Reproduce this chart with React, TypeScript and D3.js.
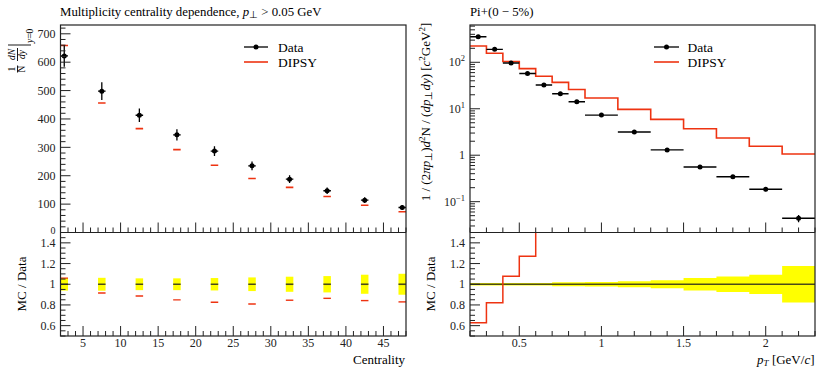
import React from 'react';
import * as d3 from 'd3';

// ---------- data: centrality dependence ----------
const centrality = [2.5, 7.5, 12.5, 17.5, 22.5, 27.5, 32.5, 37.5, 42.5, 47.5];
const centralityHalfWidth = [0.5, 0.5, 0.5, 0.5, 0.5, 0.5, 0.5, 0.5, 0.5, 0.5];
const multData = [622, 498, 413, 344, 287, 235, 188, 147, 114, 88];
const multErr = [38, 31, 23.5, 19.6, 17.2, 15.5, 13.7, 11.6, 10.5, 8.9];
const multMC = [659, 456, 366, 292, 237, 190, 159, 127, 96, 73];

// ---------- data: Pi+ (0-5%) spectrum ----------
const ptLow = [0.2, 0.3, 0.4, 0.5, 0.6, 0.7, 0.8, 0.9, 1.1, 1.3, 1.5, 1.7, 1.9, 2.1];
const ptHigh = [0.3, 0.4, 0.5, 0.6, 0.7, 0.8, 0.9, 1.1, 1.3, 1.5, 1.7, 1.9, 2.1, 2.3];
const piData = [356, 190, 96.5, 57.5, 32.5, 21, 14.2, 7.3, 3.16, 1.3, 0.558, 0.345, 0.185, 0.044];
const piRelErr = [0.012, 0.012, 0.012, 0.012, 0.012, 0.019, 0.02, 0.022, 0.028, 0.038, 0.06, 0.076, 0.093, 0.177];
const piMC = [224, 156, 104, 73, 50, 37, 26, 17, 9.7, 5.9, 3.7, 2.35, 1.56, 1.06];

// ---------- tick labels ----------
const leftYTicks = [0, 100, 200, 300, 400, 500, 600, 700];
const leftXTicks = [5, 10, 15, 20, 25, 30, 35, 40, 45];
const ratioTicks = [0.6, 0.8, 1, 1.2, 1.4];
const ratioTickLabels = ['0.6', '0.8', '1', '1.2', '1.4'];
const rightXTicks = [0.5, 1, 1.5, 2];
const rightXTickLabels = ['0.5', '1', '1.5', '2'];
const logTicks = [0.1, 1, 10, 100];

const FONT = "'Liberation Serif', 'Times New Roman', serif";
const RED = '#ee3311';
const YEL = '#ffff00';
const LINE1 = '#4a4a18';
const FRAME = '#222';

const L = { x0: 60.5, x1: 406, top: 25, mid: 232.5, bot: 336 };
const R = { x0: 470, x1: 815, top: 25, mid: 232.5, bot: 336 };

const range = (a: number, b: number, s: number) => {
  const out: number[] = [];
  for (let v = a; v <= b + 1e-9; v += s) out.push(Math.round(v * 1000) / 1000);
  return out;
};

function LeftPanel() {
  const x = d3.scaleLinear().domain([2, 48]).range([L.x0, L.x1]);
  const y = d3.scaleLinear().domain([0, 731]).range([L.mid, L.top]);
  const yr = d3.scaleLinear().domain([0.5, 1.5]).range([L.bot, L.mid]);
  const xMinor = range(2, 48, 1).filter((v) => v % 5 !== 0);
  const yMinor = range(0, 720, 20).filter((v) => v % 100 !== 0);
  const rMinor = range(0.5, 1.5, 0.05).filter((v) => !ratioTicks.some((t) => Math.abs(t - v) < 1e-6));
  return (
    <g>
      <defs>
        <clipPath id="clipLT"><rect x={L.x0} y={L.top} width={L.x1 - L.x0} height={L.mid - L.top} /></clipPath>
        <clipPath id="clipLB"><rect x={L.x0} y={L.mid} width={L.x1 - L.x0} height={L.bot - L.mid} /></clipPath>
      </defs>
      {/* title */}
      <text x={60} y={16} fontSize={12.8} fontFamily={FONT}>
        Multiplicity centrality dependence, <tspan fontStyle="italic">p</tspan><tspan fontSize={9.5} dy={2}>⊥</tspan><tspan dy={-2}> &gt; 0.05 GeV</tspan>
      </text>
      {/* main */}
      <g clipPath="url(#clipLT)">
        {centrality.map((c, i) => (
          <line key={'mc' + i} x1={x(c - centralityHalfWidth[i])} x2={x(c + centralityHalfWidth[i])} y1={y(multMC[i])} y2={y(multMC[i])} stroke={RED} strokeWidth={1.6} />
        ))}
        {centrality.map((c, i) => (
          <g key={'d' + i}>
            <line x1={x(c)} x2={x(c)} y1={y(multData[i] - multErr[i])} y2={y(multData[i] + multErr[i])} stroke="#000" strokeWidth={1.3} />
            <line x1={x(c - centralityHalfWidth[i])} x2={x(c + centralityHalfWidth[i])} y1={y(multData[i])} y2={y(multData[i])} stroke="#000" strokeWidth={1.3} />
            <circle cx={x(c)} cy={y(multData[i])} r={2.5} fill="#000" />
          </g>
        ))}
      </g>
      {/* ratio */}
      <g clipPath="url(#clipLB)">
        {centrality.map((c, i) => {
          const e = multErr[i] / multData[i];
          return (
            <g key={'r' + i}>
              <rect x={x(c - centralityHalfWidth[i])} width={x(c + centralityHalfWidth[i]) - x(c - centralityHalfWidth[i])} y={yr(1 + e)} height={yr(1 - e) - yr(1 + e)} fill={YEL} />
              <line x1={x(c - centralityHalfWidth[i])} x2={x(c + centralityHalfWidth[i])} y1={yr(1)} y2={yr(1)} stroke={LINE1} strokeWidth={1.6} />
              <line x1={x(c - centralityHalfWidth[i])} x2={x(c + centralityHalfWidth[i])} y1={yr(multMC[i] / multData[i])} y2={yr(multMC[i] / multData[i])} stroke={RED} strokeWidth={1.4} />
            </g>
          );
        })}
      </g>
      {/* ticks */}
      <g stroke={FRAME} strokeWidth={1}>
        {leftYTicks.map((t) => <line key={'ly' + t} x1={L.x0} x2={L.x0 + 10} y1={y(t)} y2={y(t)} />)}
        {yMinor.map((t) => <line key={'lym' + t} x1={L.x0} x2={L.x0 + 5} y1={y(t)} y2={y(t)} />)}
        {ratioTicks.map((t) => <line key={'lr' + t} x1={L.x0} x2={L.x0 + 10} y1={yr(t)} y2={yr(t)} />)}
        {rMinor.map((t) => <line key={'lrm' + t} x1={L.x0} x2={L.x0 + 5} y1={yr(t)} y2={yr(t)} />)}
        {[L.mid, L.bot].map((yb) => (
          <g key={'xb' + yb}>
            {leftXTicks.map((t) => <line key={t} x1={x(t)} x2={x(t)} y1={yb} y2={yb - 10} />)}
            {xMinor.map((t) => <line key={'m' + t} x1={x(t)} x2={x(t)} y1={yb} y2={yb - 5} />)}
          </g>
        ))}
      </g>
      <rect x={L.x0} y={L.top} width={L.x1 - L.x0} height={L.bot - L.top} fill="none" stroke={FRAME} strokeWidth={1.2} />
      <line x1={L.x0} x2={L.x1} y1={L.mid} y2={L.mid} stroke={FRAME} strokeWidth={1.2} />
      {/* tick labels */}
      <g fontFamily={FONT} fontSize={12} fill="#222">
        {leftYTicks.map((t) => (
          <text key={'lyl' + t} x={L.x0 - 5} y={t === 0 ? y(t) - 2 : y(t)} dy="0.35em" textAnchor="end" fontSize={t === 0 ? 10 : 12}>{t}</text>
        ))}
        {ratioTicks.map((t, i) => <text key={'lrl' + t} x={L.x0 - 5} y={yr(t)} dy="0.35em" textAnchor="end">{ratioTickLabels[i]}</text>)}
        {leftXTicks.map((t) => <text key={'lxl' + t} x={x(t)} y={347} textAnchor="middle">{t}</text>)}
      </g>
      <text x={405} y={363.5} textAnchor="end" fontFamily={FONT} fontSize={13}>Centrality</text>
      <text transform="translate(25.5,284) rotate(-90)" textAnchor="middle" fontFamily={FONT} fontSize={13}>MC / Data</text>
      {/* y label: 1/N dN/dy |_{y=0} */}
      <g transform="rotate(-90)" fontFamily={FONT} fill="#000">
        <text x={-69} y={15} fontSize={9.5} textAnchor="middle">1</text>
        <line x1={-72.5} x2={-65.5} y1={17.5} y2={17.5} stroke="#000" strokeWidth={0.9} />
        <text x={-69} y={25} fontSize={9.5} textAnchor="middle">N</text>
        <text x={-54.5} y={15} fontSize={9.5} textAnchor="middle" fontStyle="italic">dN</text>
        <line x1={-61} x2={-48} y1={17.5} y2={17.5} stroke="#000" strokeWidth={0.9} />
        <text x={-54.5} y={25} fontSize={9.5} textAnchor="middle" fontStyle="italic">dy</text>
        <line x1={-45} x2={-45} y1={8} y2={31} stroke="#000" strokeWidth={0.9} />
        <text x={-43} y={33} fontSize={9.5}><tspan fontStyle="italic">y</tspan>=0</text>
      </g>
      {/* legend */}
      <line x1={244} x2={268} y1={47} y2={47} stroke="#000" strokeWidth={1.3} />
      <circle cx={256} cy={47} r={2.5} fill="#000" />
      <text x={278} y={51.5} fontFamily={FONT} fontSize={13.5}>Data</text>
      <line x1={244} x2={268} y1={62} y2={62} stroke={RED} strokeWidth={1.6} />
      <text x={278} y={66.5} fontFamily={FONT} fontSize={13.5}>DIPSY</text>
    </g>
  );
}

function RightPanel() {
  const x = d3.scaleLinear().domain([0.2, 2.3]).range([R.x0, R.x1]);
  const y = d3.scaleLog().domain([0.0217, 635]).range([R.mid, R.top]);
  const yr = d3.scaleLinear().domain([0.5, 1.5]).range([R.bot, R.mid]);
  const xMinor = range(0.2, 2.3, 0.1).filter((v) => !rightXTicks.some((t) => Math.abs(t - v) < 1e-6));
  const rMinor = range(0.5, 1.5, 0.05).filter((v) => !ratioTicks.some((t) => Math.abs(t - v) < 1e-6));
  const [ylo, yhi] = y.domain();
  const logMinor: number[] = [];
  for (let e = -2; e <= 2; e++) for (let m = 2; m <= 9; m++) {
    const v = m * Math.pow(10, e);
    if (v >= ylo && v <= yhi) logMinor.push(v);
  }
  const stepPts = (vals: number[]) => ptLow.flatMap((lo, i) => [[lo, vals[i]], [ptHigh[i], vals[i]]] as [number, number][]);
  const mcLine = d3.line<[number, number]>().x((d) => x(d[0])).y((d) => y(d[1]))(stepPts(piMC)) || '';
  const ratioVals = piMC.map((m, i) => m / piData[i]);
  const ratioLine = d3.line<[number, number]>().x((d) => x(d[0])).y((d) => yr(Math.min(d[1], 3)))(stepPts(ratioVals)) || '';
  const band = d3.area<[number, number]>().x((d) => x(d[0])).y0((d) => yr(1 - d[1])).y1((d) => yr(1 + d[1]))(stepPts(piRelErr)) || '';
  return (
    <g>
      <defs>
        <clipPath id="clipRT"><rect x={R.x0} y={R.top} width={R.x1 - R.x0} height={R.mid - R.top} /></clipPath>
        <clipPath id="clipRB"><rect x={R.x0} y={R.mid} width={R.x1 - R.x0} height={R.bot - R.mid} /></clipPath>
      </defs>
      <text x={470} y={16} fontSize={12.8} fontFamily={FONT}>Pi+(0 − 5%)</text>
      <g clipPath="url(#clipRT)">
        <path d={mcLine} fill="none" stroke={RED} strokeWidth={1.6} />
        {ptLow.map((lo, i) => {
          const c = (lo + ptHigh[i]) / 2;
          return (
            <g key={'d' + i}>
              <line x1={x(lo)} x2={x(ptHigh[i])} y1={y(piData[i])} y2={y(piData[i])} stroke="#000" strokeWidth={1.4} />
              <line x1={x(c)} x2={x(c)} y1={y(piData[i] * (1 - piRelErr[i]))} y2={y(piData[i] * (1 + piRelErr[i]))} stroke="#000" strokeWidth={1.3} />
              <circle cx={x(c)} cy={y(piData[i])} r={2.5} fill="#000" />
            </g>
          );
        })}
      </g>
      <g clipPath="url(#clipRB)">
        <path d={band} fill={YEL} />
        <line x1={x(0.2)} x2={x(2.3)} y1={yr(1)} y2={yr(1)} stroke={LINE1} strokeWidth={1.6} />
        <path d={ratioLine} fill="none" stroke={RED} strokeWidth={1.5} />
      </g>
      <g stroke={FRAME} strokeWidth={1}>
        {logTicks.map((t) => <line key={'ly' + t} x1={R.x0} x2={R.x0 + 10} y1={y(t)} y2={y(t)} />)}
        {logMinor.map((t) => <line key={'lym' + t} x1={R.x0} x2={R.x0 + 5} y1={y(t)} y2={y(t)} />)}
        {ratioTicks.map((t) => <line key={'lr' + t} x1={R.x0} x2={R.x0 + 10} y1={yr(t)} y2={yr(t)} />)}
        {rMinor.map((t) => <line key={'lrm' + t} x1={R.x0} x2={R.x0 + 5} y1={yr(t)} y2={yr(t)} />)}
        {[R.mid, R.bot].map((yb) => (
          <g key={'xb' + yb}>
            {rightXTicks.map((t) => <line key={t} x1={x(t)} x2={x(t)} y1={yb} y2={yb - 10} />)}
            {xMinor.map((t) => <line key={'m' + t} x1={x(t)} x2={x(t)} y1={yb} y2={yb - 5} />)}
          </g>
        ))}
      </g>
      <rect x={R.x0} y={R.top} width={R.x1 - R.x0} height={R.bot - R.top} fill="none" stroke={FRAME} strokeWidth={1.2} />
      <line x1={R.x0} x2={R.x1} y1={R.mid} y2={R.mid} stroke={FRAME} strokeWidth={1.2} />
      <g fontFamily={FONT} fontSize={12} fill="#222">
        {logTicks.map((t) => {
          const e = Math.round(Math.log10(t));
          return (
            <text key={'lyl' + t} x={R.x0 - 5} y={y(t)} dy="0.35em" textAnchor="end">
              {e === 0 ? '1' : <>10<tspan fontSize={8.5} dy={-5}>{e < 0 ? '−' + -e : e}</tspan></>}
            </text>
          );
        })}
        {ratioTicks.map((t, i) => <text key={'lrl' + t} x={R.x0 - 5} y={yr(t)} dy="0.35em" textAnchor="end">{ratioTickLabels[i]}</text>)}
        {rightXTicks.map((t, i) => <text key={'lxl' + t} x={x(t)} y={347} textAnchor="middle">{rightXTickLabels[i]}</text>)}
      </g>
      <text x={814.5} y={363.5} textAnchor="end" fontFamily={FONT} fontSize={13}>
        <tspan fontStyle="italic">p</tspan><tspan fontStyle="italic" fontSize={9} dy={2.5}>T</tspan><tspan dy={-2.5}> [GeV/</tspan><tspan fontStyle="italic">c</tspan>]
      </text>
      <text transform="translate(434.5,284) rotate(-90)" textAnchor="middle" fontFamily={FONT} fontSize={13}>MC / Data</text>
      <text transform="translate(430,112) rotate(-90)" textAnchor="middle" fontFamily={FONT} fontSize={13}>
        1 / (2<tspan fontStyle="italic">πp</tspan><tspan fontSize={9.5} dy={2}>⊥</tspan><tspan dy={-2}>)</tspan><tspan fontStyle="italic">d</tspan><tspan fontSize={9} dy={-5}>2</tspan><tspan dy={5}>N / (</tspan><tspan fontStyle="italic">dp</tspan><tspan fontSize={9.5} dy={2}>⊥</tspan><tspan dy={-2} fontStyle="italic">dy</tspan>) [<tspan fontStyle="italic">c</tspan><tspan fontSize={9} dy={-5}>2</tspan><tspan dy={5}>GeV</tspan><tspan fontSize={9} dy={-5}>2</tspan><tspan dy={5}>]</tspan>
      </text>
      <line x1={654} x2={679} y1={47} y2={47} stroke="#000" strokeWidth={1.3} />
      <circle cx={666.5} cy={47} r={2.5} fill="#000" />
      <text x={687.5} y={51.5} fontFamily={FONT} fontSize={13.5}>Data</text>
      <line x1={654} x2={679} y1={62} y2={62} stroke={RED} strokeWidth={1.6} />
      <text x={687.5} y={66.5} fontFamily={FONT} fontSize={13.5}>DIPSY</text>
    </g>
  );
}

export default function App() {
  return (
    <svg width={816} height={368} style={{ position: 'absolute', left: 0, top: 0, background: '#fff' }}>
      <rect x={0} y={0} width={816} height={368} fill="#fff" />
      <LeftPanel />
      <RightPanel />
    </svg>
  );
}
